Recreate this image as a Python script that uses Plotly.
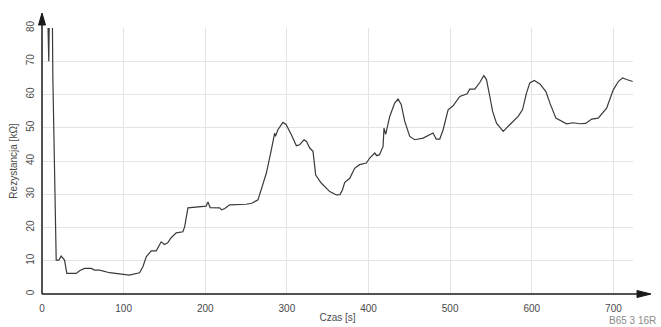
import plotly.graph_objects as go

# Resistance measurement over time
czas = [6, 8.3, 9.5, 12.3, 13.3, 15.3, 17.4, 20.6, 23.5, 27.6, 30.4, 41.9, 46, 52, 60.3,
        64.4, 70.5, 82.8, 99, 107, 119.5, 123.6, 127.7, 133.9, 140, 142, 146, 150, 154,
        158.4, 164.5, 172.6, 174.7, 178.8, 185, 201, 203.3, 206, 217.6, 220, 224, 229.9,
        250, 257, 264.6, 268.7, 274.8, 281, 285, 286, 289, 295.2, 299, 305.5, 311.6,
        315.7, 321, 324, 328, 332, 335.3, 342.3, 352.5, 360.7, 365, 368, 370.8, 377, 383,
        389, 397.4, 401.5, 407.6, 410, 413.5, 417.8, 419, 421, 426, 432, 436.2, 440,
        444.4, 450.5, 456.7, 466.9, 479, 483, 487.3, 491.4, 497.5, 503.6, 511.8, 520.8,
        524, 530.2, 536.3, 541.2, 544.5, 548.6, 552, 556.8, 565, 573, 583.3, 588.6,
        593.6, 597.6, 603, 610, 617.3, 622.2, 629.5, 642.6, 650.8, 659, 666, 673.3,
        681.4, 691.7, 699.8, 706, 711.3, 716.2, 723.6]
rezystancja = [95, 70, 95, 95, 65, 34, 10.2, 10.2, 11.4, 10.2, 6.2, 6.2, 7.0, 7.7, 7.7,
               7.2, 7.2, 6.4, 5.9, 5.7, 6.4, 8.2, 11.2, 13.0, 13.0, 14, 15.7, 14.9, 15.4,
               17, 18.4, 18.7, 20.2, 25.9, 26, 26.4, 27.7, 26, 25.9, 25.3, 25.7, 26.8,
               27.0, 27.3, 28.3, 31.3, 36.3, 43.4, 48.4, 47.4, 49.4, 51.6, 51, 47.9, 44.6,
               44.9, 46.4, 45.9, 43.9, 42.9, 35.8, 33.3, 30.8, 29.8, 29.9, 31.3, 33.5, 34.8,
               37.8, 38.9, 39.4, 40.9, 42.4, 41.6, 41.9, 44.4, 49.9, 48, 53.4, 57.4, 58.6,
               57, 51.9, 47.4, 46.4, 46.9, 48.4, 46.6, 46.6, 49.4, 55.4, 56.6, 59.4, 60.2,
               61.6, 61.6, 63.6, 65.7, 64.5, 59.4, 54.9, 51.4, 48.9, 50.9, 53.4, 55.4,
               60.5, 63.5, 64.2, 63.2, 60.9, 57.4, 52.9, 51.2, 51.5, 51.2, 51.3, 52.6,
               52.9, 55.9, 61.4, 63.9, 65, 64.5, 63.9]

x_ticks = [0, 100, 200, 300, 400, 500, 600, 700]
y_ticks = [0, 10, 20, 30, 40, 50, 60, 70, 80]

font = dict(family="Liberation Sans, Arial, sans-serif", size=10, color="#4a4a4a")

W, H = 661, 327
ML, MR, MT, MB = 42, 28, 28, 33
PW, PH = W - ML - MR, H - MT - MB


def px(v):
    # horizontal pixel offset from the plot's left edge -> paper fraction
    return v / PW


def py(v):
    # vertical pixel offset from the plot's bottom edge -> paper fraction
    return v / PH


fig = go.Figure()
fig.add_trace(go.Scatter(
    x=czas, y=rezystancja, mode="lines",
    line=dict(color="#3a3a3a", width=1.2),
    hoverinfo="skip", showlegend=False,
))

axis_col = "#1a1a1a"
shapes = [
    # extended axis lines
    dict(type="line", xref="paper", yref="paper", x0=0, y0=0, x1=px(608), y1=0,
         line=dict(color=axis_col, width=1.5)),
    dict(type="line", xref="paper", yref="paper", x0=0, y0=0, x1=0, y1=1 + py(5),
         line=dict(color=axis_col, width=1.5)),
    # arrow heads
    dict(type="path", xref="paper", yref="paper",
         path=f"M {px(595)},{py(-3.5)} L {px(609)},0 L {px(595)},{py(3.5)} Z",
         fillcolor=axis_col, line=dict(color=axis_col, width=1)),
    dict(type="path", xref="paper", yref="paper",
         path=f"M {px(-3.5)},{1 + py(3)} L 0,{1 + py(15)} L {px(3.5)},{1 + py(3)} Z",
         fillcolor=axis_col, line=dict(color=axis_col, width=1)),
]

fig.update_layout(
    width=W, height=H,
    margin=dict(l=ML, r=MR, t=MT, b=MB),
    paper_bgcolor="white", plot_bgcolor="white",
    font=font,
    shapes=shapes,
    xaxis=dict(
        range=[0, 724], tickvals=x_ticks, showgrid=True, gridcolor="#e4e4e4",
        gridwidth=1, zeroline=False, showline=False, automargin=False,
        ticks="outside", ticklen=5, tickcolor="rgba(0,0,0,0)", tickfont=font,
        title=dict(text="Czas [s]", font=font, standoff=0),
    ),
    yaxis=dict(
        range=[0, 80], tickvals=y_ticks, showgrid=True, gridcolor="#e4e4e4",
        gridwidth=1, zeroline=False, showline=False, automargin=False,
        ticks="outside", ticklen=3, tickcolor="rgba(0,0,0,0)",
        tickangle=-90, tickfont=font,
        title=dict(text="Rezystancja [kΩ]", font=font, standoff=5),
    ),
    annotations=[
        dict(xref="paper", yref="paper", x=px(616), y=py(-19), xanchor="right",
             yanchor="top", showarrow=False, text="B65 3 16R",
             font=dict(family="Liberation Sans, Arial, sans-serif", size=10,
                       color="#8a8a8a")),
    ],
)

fig.write_html("out.html")
